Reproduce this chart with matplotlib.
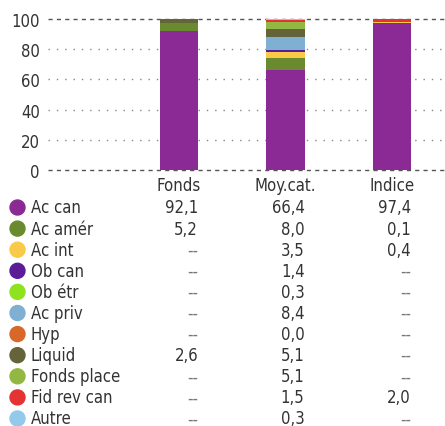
import matplotlib
matplotlib.use("Agg")
import matplotlib.pyplot as plt
import matplotlib.transforms as mtransforms
import numpy as np

plt.rcParams['font.family'] = ['DejaVu Sans']
plt.rcParams['font.stretch'] = 'condensed'

columns = ['Fonds', 'Moy.cat.', 'Indice']
categories = ['Ac can', 'Ac amér', 'Ac int', 'Ob can', 'Ob étr', 'Ac priv',
              'Hyp', 'Liquid', 'Fonds place', 'Fid rev can', 'Autre']
colors = ['#8B2A95', '#6A8A30', '#F8CA48', '#5B1C98', '#8EE31E', '#7FB0D4',
          '#D8682A', '#65633A', '#92B843', '#E53232', '#93C9EA']
# None = "--"
fonds = [92.1, 5.2, None, None, None, None, None, 2.6, None, None, None]
moycat = [66.4, 8.0, 3.5, 1.4, 0.3, 8.4, 0.0, 5.1, 5.1, 1.5, 0.3]
indice = [97.4, 0.1, 0.4, None, None, None, None, None, None, 2.0, None]
yticks = [0, 20, 40, 60, 80, 100]

series = [fonds, moycat, indice]
txt = '#333333'

fig = plt.figure(figsize=(4.45, 4.27), dpi=100)
ax = fig.add_axes([0.108, 0.5995, 0.892, 0.3535])
x = np.arange(len(columns))
w = 0.357

bottoms = np.zeros(len(columns))
for k, cat in enumerate(categories):
    vals = np.array([s[k] if s[k] is not None else 0 for s in series])
    ax.bar(x, vals, w, bottom=bottoms, color=colors[k], zorder=3, linewidth=0)
    bottoms += vals

ax.set_xlim(-1.23, 2.498)
ax.set_ylim(0, 100)
for y in yticks:
    if y in (0, 100):
        ax.axhline(y, color='#555555', lw=1, ls=(0, (3, 3)), zorder=1, clip_on=False)
    else:
        ax.axhline(y, color='#888888', lw=1, ls=(0, (1, 5)), zorder=1)
ax.set_yticks(yticks)
ax.set_yticklabels([str(v) for v in yticks], fontsize=12, color=txt)
ax.tick_params(axis='y', length=0, pad=6)
ax.set_xticks([])
for s in ax.spines.values():
    s.set_visible(False)

# table below the chart
H = 427.0
trans = mtransforms.blended_transform_factory(ax.transData, fig.transFigure)
hy = 1 - 186 / H
for i, c in enumerate(columns):
    fig.text(i, hy, c, transform=trans, ha='center', va='center', fontsize=12, color=txt)

for k, cat in enumerate(categories):
    ry = 1 - (208.5 + k * 21.1) / H
    circ = plt.Circle((17.5, ry * H), 7.5, transform=mtransforms.IdentityTransform(),
                      color=colors[k], figure=fig)
    fig.patches.append(circ)
    fig.text(31 / 445, ry, cat, ha='left', va='center', fontsize=12, color=txt)
    for i, s in enumerate(series):
        v = s[k]
        lab = '--' if v is None else f'{v:.1f}'.replace('.', ',')
        fig.text(i + w / 2, ry, lab, transform=trans, ha='right', va='center',
                 fontsize=12, color=txt if v is not None else '#777777')

fig.savefig('out.png', dpi=100)
